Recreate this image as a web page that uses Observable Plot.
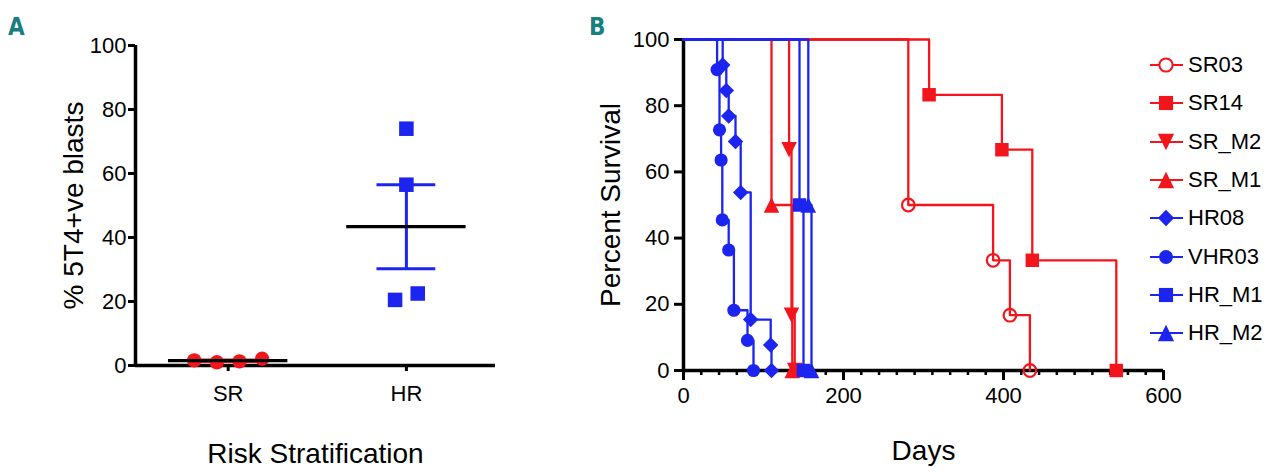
<!DOCTYPE html>
<html><head><meta charset="utf-8">
<script src="https://cdn.jsdelivr.net/npm/d3@7"></script>
<script src="https://cdn.jsdelivr.net/npm/@observablehq/plot@0.6"></script>
<style>
html,body{margin:0;padding:0;background:#fff;}
#wrap{position:relative;width:1280px;height:474px;overflow:hidden;font-family:"Liberation Sans",Arial,sans-serif;color:#000;}
.panel{position:absolute;top:0;}
.plabel{position:absolute;font-family:"DejaVu Sans Condensed","DejaVu Sans",sans-serif;font-weight:bold;font-size:24px;line-height:1;color:#17807f;}
#legend{position:absolute;left:1150px;top:46px;}
.item{display:flex;align-items:center;height:38.3px;font-size:22px;}
.item svg{display:block;}
.item span{margin-left:4px;}
</style></head>
<body><div id="wrap">
<div id="pa" class="panel" style="left:0px"></div>
<div id="pb" class="panel" style="left:560px"></div>
<div class="plabel" style="left:8px;top:15px">A</div>
<div class="plabel" style="left:589px;top:15px">B</div>
<div id="legend"></div>
</div>
<script>
// ---------- Panel A data ----------
const groups = ["SR", "HR"];
const srValues = [1.6, 1.0, 1.3, 2.1];
const hrValues = [74.0, 56.5, 20.5, 22.5];
const yTicks = [0, 20, 40, 60, 80, 100];

// ---------- Panel B data ----------
const seriesNames = ["SR03", "SR14", "SR_M2", "SR_M1", "HR08", "VHR03", "HR_M1", "HR_M2"];
const sr03Days = [0, 281, 387, 408, 433];
const sr03Pct  = [100, 50, 33.3, 16.7, 0];
const sr14Days = [0, 307, 398, 436, 541];
const sr14Pct  = [100, 83.3, 66.7, 33.3, 0];
const srM2Days = [0, 132, 135, 139];
const srM2Pct  = [100, 66.7, 16.7, 0];
const srM1Days = [0, 110, 136];
const srM1Pct  = [100, 50, 0];
const hr08Days = [0, 49, 53.5, 56.5, 65, 71.5, 84, 109, 110];
const hr08Pct  = [100, 92.3, 84.6, 76.9, 69.2, 53.8, 15.4, 7.7, 0];
const vhr03Days = [0, 42, 45, 47, 48.5, 56.5, 63, 80, 87.5];
const vhr03Pct  = [100, 90.9, 72.7, 63.6, 45.5, 36.4, 18.2, 9.1, 0];
const hrM1Days = [0, 145, 150];
const hrM1Pct  = [100, 50, 0];
const hrM2Days = [0, 156, 160];
const hrM2Pct  = [100, 50, 0];
const xMajorTicks = [0, 200, 400, 600];

// ---------- styles ----------
const RED = "#f2161c", BLUE = "#1c24f0";
const FONT = "'Liberation Sans', Arial, sans-serif";
const diamond = {draw(ctx, size){const h=Math.sqrt(size/2);ctx.moveTo(0,-h);ctx.lineTo(h,0);ctx.lineTo(0,h);ctx.lineTo(-h,0);ctx.closePath();}};
const triUp = {draw(ctx, size){const s=Math.sqrt(size/2);ctx.moveTo(0,-s);ctx.lineTo(s,s);ctx.lineTo(-s,s);ctx.closePath();}};
const triDown = {draw(ctx, size){const s=Math.sqrt(size/2);ctx.moveTo(0,s);ctx.lineTo(s,-s);ctx.lineTo(-s,-s);ctx.closePath();}};

const seriesDays = [sr03Days, sr14Days, srM2Days, srM1Days, hr08Days, vhr03Days, hrM1Days, hrM2Days];
const seriesPct = [sr03Pct, sr14Pct, srM2Pct, srM1Pct, hr08Pct, vhr03Pct, hrM1Pct, hrM2Pct];
const seriesStyle = [
  {color: RED, symbol: "circle", r: 6.3, open: true},
  {color: RED, symbol: "square", r: 7.6},
  {color: RED, symbol: triDown, r: 6.2},
  {color: RED, symbol: triUp, r: 6.2},
  {color: BLUE, symbol: diamond, r: 6.2},
  {color: BLUE, symbol: "circle", r: 6.6},
  {color: BLUE, symbol: "square", r: 7.6},
  {color: BLUE, symbol: triUp, r: 6.2}
];

// ---------- Panel A ----------
function spread(values, thr, gap) {
  const clusters = [];
  values.forEach((v, i) => {
    let c = clusters.find(cl => cl.some(j => Math.abs(values[j] - v) < thr));
    if (!c) { c = []; clusters.push(c); }
    c.push(i);
  });
  const off = new Array(values.length);
  clusters.forEach(cl => cl.forEach((j, k) => off[j] = (k - (cl.length - 1) / 2) * gap));
  return off;
}
const groupValues = [srValues, hrValues];
const groupColors = [RED, BLUE];
const groupSymbols = ["circle", "square"];
const groupR = [7.2, 8.2];
const pointsA = [];
const statsA = [];
groupValues.forEach((vals, gi) => {
  const off = spread(vals, 5, 0.127);
  vals.forEach((v, i) => pointsA.push({g: groups[gi], pos: gi + 1 + off[i], value: v, gi}));
  const m = d3.mean(vals), sem = d3.deviation(vals) / Math.sqrt(vals.length);
  statsA.push({g: groups[gi], pos: gi + 1, mean: m, lo: m - sem, hi: m + sem, gi});
});
const xDomA = [0.48, 2.5];

const plotA = Plot.plot({
  width: 500, height: 474,
  marginTop: 45, marginBottom: 109, marginLeft: 135, marginRight: 5,
  style: {fontFamily: FONT, fontSize: "22px", color: "#000", background: "transparent", overflow: "visible"},
  x: {domain: xDomA}, y: {domain: [0, 100]},
  marks: [
    Plot.axisY({ticks: yTicks, tickSize: 7, tickPadding: 2, strokeWidth: 3, label: null}),
    Plot.axisY({ticks: [], label: "% 5T4+ve blasts", labelArrow: "none", labelAnchor: "center", labelOffset: 72, fontSize: 28}),
    Plot.axisX({ticks: [1, 2], tickFormat: d => groups[d - 1], tickSize: 6, tickPadding: 14, strokeWidth: 3, label: null}),
    Plot.axisX({ticks: [], label: "Risk Stratification", labelArrow: "none", labelAnchor: "center", labelOffset: 97, fontSize: 28}),
    Plot.ruleX([xDomA[0]], {stroke: "#000", strokeWidth: 3.5}),
    Plot.ruleY([0], {stroke: "#000", strokeWidth: 3.5}),
    ...groups.map((g, gi) => Plot.dot(pointsA.filter(d => d.gi === gi), {x: "pos", y: "value", symbol: groupSymbols[gi], r: groupR[gi], fill: groupColors[gi], stroke: "none"})),
    Plot.ruleX(statsA, {x: "pos", y1: "lo", y2: "hi", stroke: (d) => groupColors[d.gi], strokeWidth: 3}),
    Plot.ruleY(statsA, {y: "lo", x1: d => d.pos - 0.165, x2: d => d.pos + 0.165, stroke: d => groupColors[d.gi], strokeWidth: 3}),
    Plot.ruleY(statsA, {y: "hi", x1: d => d.pos - 0.165, x2: d => d.pos + 0.165, stroke: d => groupColors[d.gi], strokeWidth: 3}),
    Plot.ruleY(statsA, {y: "mean", x1: d => d.pos - 0.335, x2: d => d.pos + 0.335, stroke: "#000", strokeWidth: 3.2})
  ]
});
document.getElementById("pa").appendChild(plotA);

// ---------- Panel B ----------
const minorTicks = d3.range(0, 600.001, 200 / 9);
const seriesRows = seriesNames.map((name, si) => seriesDays[si].map((d, i) => ({series: name, day: d, pct: seriesPct[si][i], i})));
const marksB = [
  Plot.axisY({ticks: yTicks, tickSize: 9, tickPadding: 5, strokeWidth: 3, label: null}),
  Plot.axisY({ticks: [], label: "Percent Survival", labelArrow: "none", labelAnchor: "center", labelOffset: 83, fontSize: 28}),
  Plot.axisX({ticks: minorTicks, tickSize: 5, text: null, strokeWidth: 2.5, label: null}),
  Plot.axisX({ticks: xMajorTicks, tickSize: 10, tickPadding: 7, strokeWidth: 3, label: null}),
  Plot.axisX({ticks: [], label: "Days", labelArrow: "none", labelAnchor: "center", labelOffset: 89, fontSize: 28}),
  Plot.ruleX([0], {stroke: "#000", strokeWidth: 3.5}),
  Plot.ruleY([0], {stroke: "#000", strokeWidth: 3.5})
];
seriesRows.forEach((rows, si) => {
  const st = seriesStyle[si];
  marksB.push(Plot.line(rows, {x: "day", y: "pct", curve: "step-after", stroke: st.color, strokeWidth: 2.3}));
});
seriesRows.forEach((rows, si) => {
  const st = seriesStyle[si];
  marksB.push(Plot.dot(rows.filter(d => d.i > 0), {x: "day", y: "pct", symbol: st.symbol, r: st.r,
    fill: st.open ? "none" : st.color, stroke: st.open ? st.color : "none", strokeWidth: 2.2}));
});
const plotB = Plot.plot({
  width: 620, height: 474,
  marginTop: 39, marginBottom: 104, marginLeft: 123, marginRight: 17,
  style: {fontFamily: FONT, fontSize: "22px", color: "#000", background: "transparent", overflow: "visible"},
  x: {domain: [0, 600]}, y: {domain: [0, 100]},
  marks: marksB
});
document.getElementById("pb").appendChild(plotB);

// ---------- Legend ----------
const legend = d3.select("#legend");
seriesNames.forEach((name, si) => {
  const st = seriesStyle[si];
  const item = legend.append("div").attr("class", "item");
  const svg = item.append("svg").attr("width", 34).attr("height", 24);
  svg.append("line").attr("x1", 0).attr("x2", 33).attr("y1", 12).attr("y2", 12).attr("stroke", st.color).attr("stroke-width", 2);
  const type = typeof st.symbol === "string" ? (st.symbol === "circle" ? d3.symbolCircle : d3.symbolSquare) : st.symbol;
  svg.append("path").attr("transform", "translate(16,12)")
    .attr("d", d3.symbol(type, Math.PI * st.r * st.r * 1.1)())
    .attr("fill", st.open ? "#fff" : st.color)
    .attr("stroke", st.open ? st.color : "none").attr("stroke-width", 2);
  item.append("span").text(name);
});
</script>
</body></html>
